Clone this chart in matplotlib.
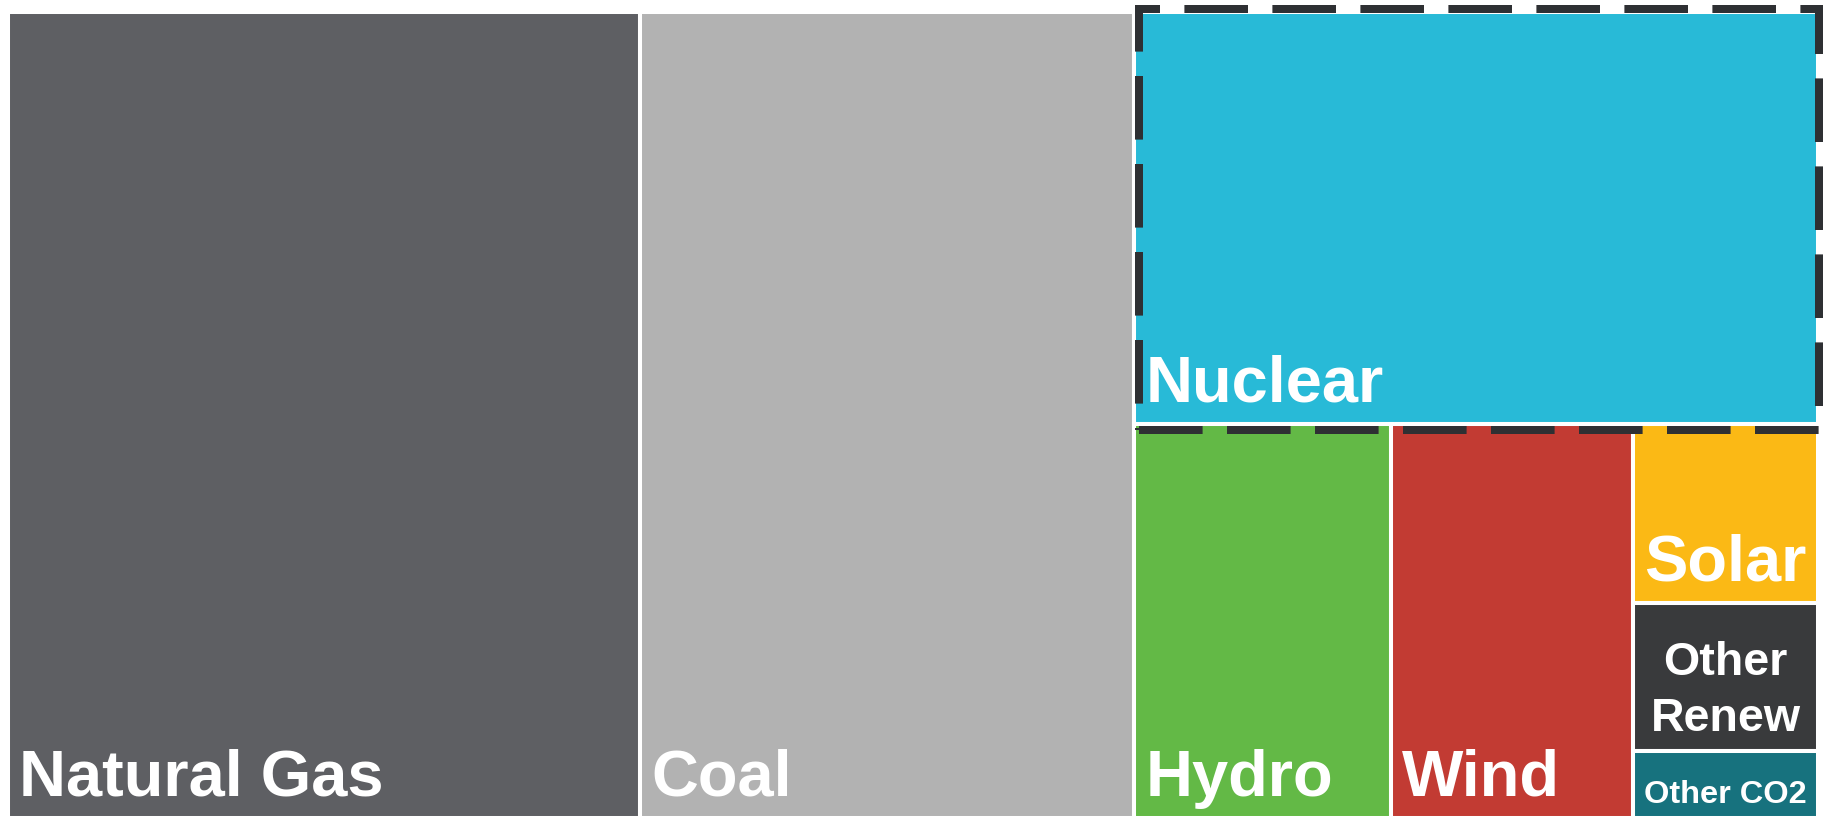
import matplotlib.pyplot as plt
from matplotlib.patches import Rectangle

# share of generation (%)
labels = ["Natural Gas", "Coal", "Nuclear", "Hydro", "Wind", "Solar", "Other\nRenew", "Other CO2"]
shares = [34.94, 27.29, 19.30, 6.93, 6.53, 2.27, 1.88, 0.85]
colors = ["#5e5f63", "#b2b2b2", "#28bad7", "#63b946", "#c23b33", "#fbb915", "#393a3c", "#17727e"]

# slice-and-dice structure: "h" = side by side, "v" = stacked top to bottom
TREE = ("h", [0, 1, ("v", [2, ("h", [3, 4, ("v", [5, 6, 7])])])])

W, H = 1823, 816
BOX = (8, 12, 1810, 806)   # outer treemap frame in pixels


def total(node):
    if isinstance(node, int):
        return shares[node]
    return sum(total(k) for k in node[1])


def layout(node, x, y, w, h, out):
    if isinstance(node, int):
        out[node] = (x, y, w, h)
        return
    direction, kids = node
    s = total(node)
    for k in kids:
        f = total(k) / s
        if direction == "h":
            layout(k, x, y, w * f, h, out)
            x += w * f
        else:
            layout(k, x, y, w, h * f, out)
            y += h * f


rects = {}
layout(TREE, *BOX, rects)

fig = plt.figure(figsize=(W / 100, H / 100), dpi=100)
ax = fig.add_axes([0, 0, 1, 1])
ax.set_xlim(0, W)
ax.set_ylim(H, 0)
ax.axis("off")

for i, c in enumerate(colors):
    x, y, w, h = rects[i]
    ax.add_patch(Rectangle((x, y), w, h, facecolor=c, edgecolor="white", linewidth=2.9, zorder=1))

# labels
big = 46.8
for i, lab in enumerate(labels):
    x, y, w, h = rects[i]
    if i == 6:
        lines = lab.split("\n")
        for j, ln in enumerate(reversed(lines)):
            ax.text(x + w / 2, y + h - 20 - 56 * j, ln, ha="center", va="baseline",
                    fontsize=33.5, fontweight="bold", color="white",
                    family="Liberation Sans", zorder=4)
    elif i == 7:
        ax.text(x + w / 2, y + h - 15, lab, ha="center", va="baseline",
                fontsize=23.4, fontweight="bold", color="white",
                family="Liberation Sans", zorder=4)
    else:
        ax.text(x + 11, y + h - 22, lab, ha="left", va="baseline",
                fontsize=big, fontweight="bold", color="white",
                family="Liberation Sans", zorder=4)

# dashed highlight around Nuclear
nx, ny, nw, nh = rects[2]
left, right = nx + 4.5, nx + nw + 1
top, bottom = ny - 3, ny + nh + 6
ax.add_patch(Rectangle((left, bottom), right - left, top - bottom, fill=False,
                       edgecolor="#2e3033", linewidth=5.76,
                       linestyle=(0, (7.95, 3.05)), joinstyle="miter",
                       capstyle="butt", zorder=3))

fig.savefig("out.png", dpi=100)
